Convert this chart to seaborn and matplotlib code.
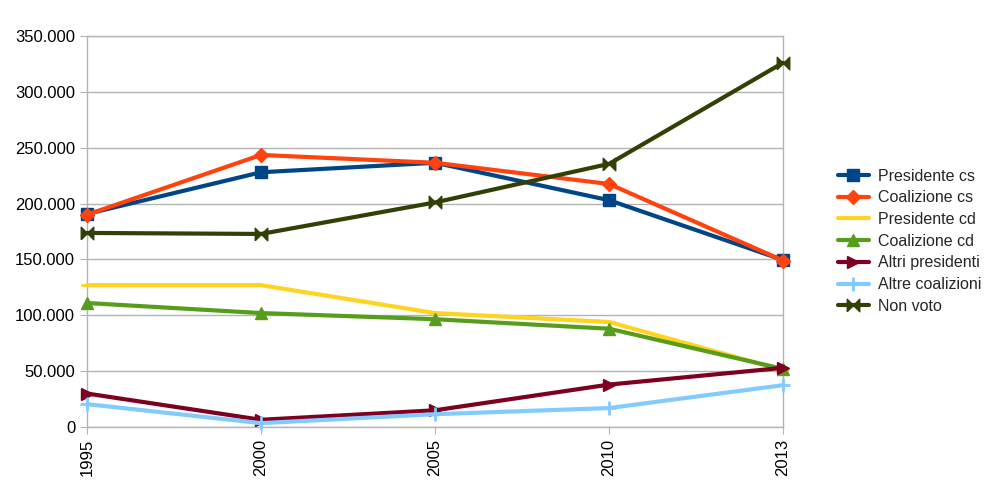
import pandas as pd
import seaborn as sns
import matplotlib.pyplot as plt
from matplotlib.ticker import FuncFormatter

# dati
anni = ['1995', '2000', '2005', '2010', '2013']
presidente_cs = [190700, 228000, 236500, 203000, 149500]
coalizione_cs = [190000, 243500, 236500, 217500, 149000]
presidente_cd = [127000, 127000, 102000, 94000, 51000]
coalizione_cd = [111000, 102000, 96500, 88000, 52000]
altri_presidenti = [30000, 6500, 15000, 38000, 53000]
altre_coalizioni = [20500, 3500, 11500, 17000, 37500]
non_voto = [173700, 172800, 201000, 235500, 326000]

serie = {
    'Presidente cs': presidente_cs,
    'Coalizione cs': coalizione_cs,
    'Presidente cd': presidente_cd,
    'Coalizione cd': coalizione_cd,
    'Altri presidenti': altri_presidenti,
    'Altre coalizioni': altre_coalizioni,
    'Non voto': non_voto,
}

colori = ['#004586', '#ff420e', '#ffd320', '#579d1c', '#7e0021', '#83caff', '#314004']
bowtie = [(-1, -1), (1, 1), (1, -1), (-1, 1), (-1, -1)]
marcatori = ['s', 'D', '_', '^', '>', '+', bowtie]
dimensioni = [8, 7, 8, 8, 9, 10, 9]

df = pd.DataFrame([(k, a, v) for k, vals in serie.items() for a, v in zip(anni, vals)],
                  columns=['serie', 'anno', 'valore'])

sns.set_style('white')
plt.rcParams['font.family'] = ['Liberation Sans', 'DejaVu Sans']

fig = plt.figure(figsize=(9.86, 4.92), dpi=100)
ax = fig.add_axes([0.0882, 0.132, 0.706, 0.795])

for i, nome in enumerate(serie):
    sub = df[df['serie'] == nome]
    sns.lineplot(data=sub, x='anno', y='valore', color=colori[i], linewidth=3,
                 marker=marcatori[i], markersize=dimensioni[i], markeredgecolor=colori[i],
                 markeredgewidth=2 if marcatori[i] in ('+', '_') else 1,
                 label=nome, ax=ax, sort=False, clip_on=False, zorder=3)

ax.set_xlim(0, len(anni) - 1)
ax.set_ylim(0, 350000)
ax.set_yticks(range(0, 350001, 50000))
ax.yaxis.set_major_formatter(FuncFormatter(lambda v, p: f'{int(v):,}'.replace(',', '.')))
ax.set_xlabel('')
ax.set_ylabel('')
ax.grid(axis='y', color='#b3b3b3', linewidth=1)
ax.grid(axis='x', visible=False)
for s in ax.spines.values():
    s.set_color('#b3b3b3')
    s.set_linewidth(1)
ax.tick_params(axis='both', which='both', direction='out', length=5, color='#b3b3b3',
               labelsize=12, labelcolor='black', left=True, bottom=True)
plt.setp(ax.get_xticklabels(), rotation=90)

ax.legend(loc='center left', bbox_to_anchor=(1.07, 0.475), frameon=False, fontsize=11.5,
          handlelength=1.9, handletextpad=0.6, labelspacing=0.42, borderaxespad=0)

fig.savefig('out.png', dpi=100)
